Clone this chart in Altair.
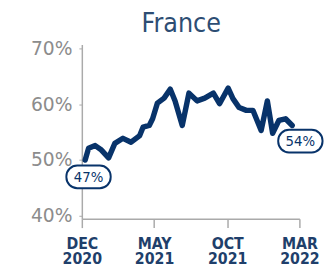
import altair as alt
import pandas as pd

dates = ["2020-12-08", "2020-12-15", "2020-12-29", "2021-01-11", "2021-01-26", "2021-02-08",
         "2021-02-25", "2021-03-14", "2021-04-01", "2021-04-08", "2021-04-21", "2021-04-28",
         "2021-05-08", "2021-05-22", "2021-06-04", "2021-06-14", "2021-06-29", "2021-07-13",
         "2021-07-30", "2021-08-15", "2021-09-02", "2021-09-15", "2021-10-03", "2021-10-13",
         "2021-10-26", "2021-11-10", "2021-11-24", "2021-12-11", "2021-12-24", "2022-01-04",
         "2022-01-17", "2022-01-31", "2022-02-14"]
values = [50.0, 52.1, 52.6, 51.8, 50.4, 53.0, 53.9, 53.2, 54.4, 55.9, 56.2, 57.4,
          60.2, 61.1, 62.7, 60.6, 56.2, 62.0, 60.6, 61.1, 62.0, 60.1, 62.9, 61.0,
          59.4, 58.9, 58.9, 55.3, 60.6, 54.8, 57.1, 57.4, 56.2]

label_dates = ["2020-12-15", "2022-03-03"]
label_values = [47, 53.4]
label_texts = ["47%", "54%"]

title_text = ["France"]

NAVY = "#08336a"

df = pd.DataFrame({"date": dates, "value": values})
ldf = pd.DataFrame({"date": label_dates, "value": label_values, "text": label_texts})
tdf = pd.DataFrame({"title": title_text})

x = alt.X("date:T", scale=alt.Scale(type="utc", domain=[alt.DateTime(year=2020, month=12, date=1, utc=True),
                                                        alt.DateTime(year=2022, month=3, date=1, utc=True)]),
          axis=alt.Axis(values=[alt.DateTime(year=2020, month=12, date=1, utc=True),
                                alt.DateTime(year=2021, month=5, date=1, utc=True),
                                alt.DateTime(year=2021, month=10, date=1, utc=True),
                                alt.DateTime(year=2022, month=3, date=1, utc=True)],
                        labelExpr="[upper(utcFormat(datum.value, '%b')), utcFormat(datum.value, '%Y')]",
                        title=None, grid=False, domainColor="#aaaaaa", tickColor="#aaaaaa",
                        domainWidth=1.5, tickWidth=1.5,
                        tickSize=9, labelColor="#1f3f6b", labelFont="DejaVu Sans Condensed",
                        labelFontWeight="bold", labelFontSize=16, labelLineHeight=15,
                        labelPadding=8, labelFlush=False, labelOverlap=False))
y = alt.Y("value:Q", scale=alt.Scale(domain=[39.5, 70.7], nice=False, zero=False),
          axis=alt.Axis(values=[40, 50, 60, 70], labelExpr="datum.value + '%'", title=None,
                        grid=False, domainColor="#aaaaaa", tickColor="#aaaaaa", tickSize=3,
                        domainWidth=1.5,
                        labelColor="#8c8c8c", labelFontSize=19, labelFont="DejaVu Sans",
                        labelPadding=7))

line = alt.Chart(df).mark_line(color=NAVY, strokeWidth=5.5, strokeJoin="round", strokeCap="round").encode(x=x, y=y)

box = alt.Chart(ldf).mark_rect(width=45, height=23, cornerRadius=11, fill="white",
                               stroke=NAVY, strokeWidth=2).encode(x="date:T", y="value:Q")
txt = alt.Chart(ldf).mark_text(color=NAVY, fontSize=15, font="DejaVu Sans Condensed").encode(
    x="date:T", y="value:Q", text="text:N")

title = alt.Chart(tdf).mark_text(color="#2d4d73", fontSize=27, font="DejaVu Sans Condensed",
                                 align="center", baseline="alphabetic").encode(
    x=alt.value(101), y=alt.value(-13), text="title:N")

chart = alt.layer(line, box, txt, title).properties(
    width=221, height=177,
    autosize=alt.AutoSizeParams(type="none"),
    padding={"left": 75, "top": 35, "right": 26, "bottom": 50},
).configure_view(stroke=None)

chart.save("out.html", embed_options={"renderer": "svg", "actions": False})
